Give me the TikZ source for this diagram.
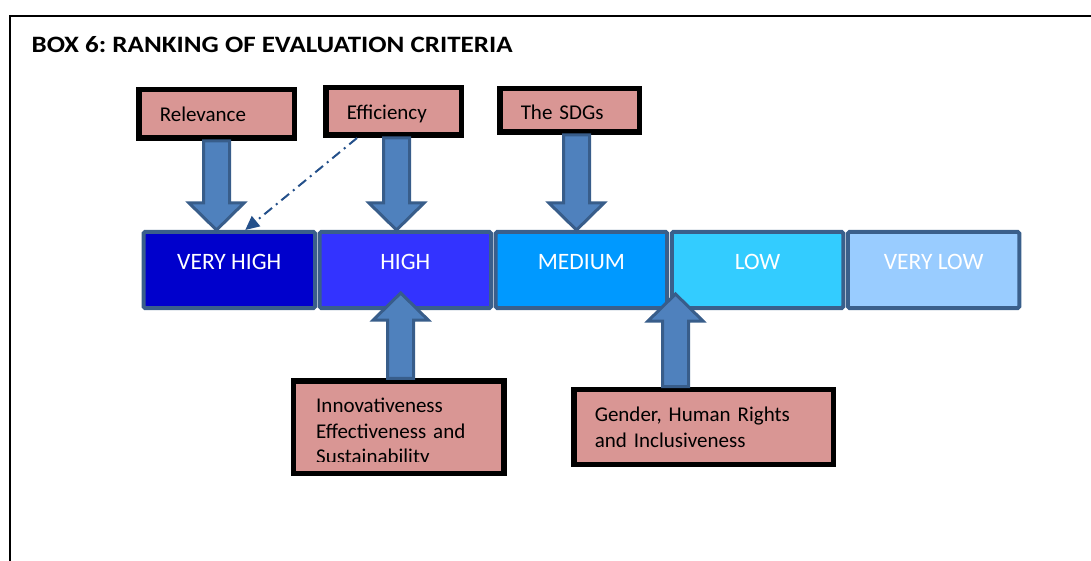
\documentclass[tikz,border=0pt]{standalone}
\usepackage{fontspec}
\setmainfont{Carlito}
\newfontfamily\titlefont[FakeStretch=1.15]{Carlito}
\frenchspacing
\usetikzlibrary{positioning,calc,arrows.meta}

\definecolor{rankedge}{HTML}{3A5F8B}
\definecolor{vhfill}{HTML}{0000CC}
\definecolor{hfill}{HTML}{3333FF}
\definecolor{mfill}{HTML}{0099FF}
\definecolor{lfill}{HTML}{33CCFF}
\definecolor{vlfill}{HTML}{99CCFF}
\definecolor{critfill}{HTML}{D99694}
\definecolor{arrowfill}{HTML}{4F81BD}
\definecolor{arrowedge}{HTML}{385D8A}
\definecolor{dashblue}{HTML}{24508A}

\tikzset{
  rank/.style={draw=rankedge, line width=4pt, rounded corners=1.5pt,
    minimum width=171.5pt, minimum height=76pt, inner sep=0pt, text=white,
    font=\fontsize{23.5}{28}\selectfont, text height=15pt, text depth=16.4pt},
  crit/.style={draw=black, fill=critfill, line width=5.5pt, inner xsep=21pt,
    align=left, font=\fontsize{21}{25.5}\selectfont},
  block/.style={draw=arrowedge, fill=arrowfill, line width=3pt},
  dashdot/.style={draw=dashblue, line width=2pt,
    dash pattern=on 10pt off 5pt on 2pt off 5pt,
    -{Triangle[length=14pt,width=13pt]}}
}

% block arrow from tail #1 to tip #2 (vertical only)
\newcommand{\blockarrow}[2]{%
  \path[block] let \p1=#1, \p2=#2, \n1={(\y2-\y1)/abs(\y2-\y1)} in
    ({\x1-13pt},\y1) -- ({\x1+13pt},\y1) -- ({\x1+13pt},{\y2-(\n1)*27pt})
    -- ({\x1+27.5pt},{\y2-(\n1)*27pt}) -- (\x2,\y2)
    -- ({\x1-27.5pt},{\y2-(\n1)*27pt}) -- ({\x1-13pt},{\y2-(\n1)*27pt}) -- cycle;}

\begin{document}
\begin{tikzpicture}[x=1pt,y=-1pt]
\useasboundingbox (0,0) rectangle (1091,561);
\draw[line width=2pt] (1091,16) -- (10,16) -- (10,561);

\node[anchor=base west, inner sep=0pt, font=\titlefont\fontsize{23.5}{28}\selectfont\bfseries]
  (title) at (31.5,52.5) {BOX 6: RANKING OF EVALUATION CRITERIA};

% the scale
\node[rank, fill=vhfill] (VH) at (229.25,270) {VERY HIGH};
\node[rank, fill=hfill, right=0.6pt of VH] (H) {HIGH};
\node[rank, fill=mfill, right=0.6pt of H] (M) {MEDIUM};
\node[rank, fill=lfill, right=0.6pt of M] (L) {LOW};
\node[rank, fill=vlfill, right=0.6pt of L] (VL) {VERY LOW};

% criteria above
\node[crit, text width=113.5pt, minimum height=48.5pt, text height=16pt, text depth=0pt]
  (Rel) at (216.5,114) {Relevance};
\node[crit, text width=93.5pt, minimum height=47.5pt, text height=17pt, text depth=0pt]
  (Eff) at (393.5,111.5) {Efficiency};
\node[crit, text width=97.5pt, minimum height=43.5pt, text height=19pt, text depth=0pt]
  (SDG) at (569.5,110.5) {The SDGs};

\blockarrow{(Rel.south)}{(Rel.south |- VH.north)}
\coordinate (EffT) at ($(Eff.south)+(3,0)$);
\blockarrow{(EffT)}{(EffT |- H.north)}
\coordinate (SDGT) at ($(SDG.south)+(7,0)$);
\blockarrow{(SDGT)}{(SDGT |- M.north)}

\coordinate (EffD) at ($(Eff.south west)+(34,0)$);
\coordinate (VHD) at ($(VH.north)+(16,0)$);
\draw[dashdot] (EffD) -- (VHD);

% criteria below
\node[crit, minimum width=210.5pt, minimum height=92.2pt] (Inn) at (398.7,427.2) {};
\coordinate (cut) at (0,461.7);
\begin{scope}
  \clip (Inn.north west) rectangle (Inn.east |- cut);
  \node[anchor=base west, inner sep=0pt, text width=185pt, align=left,
    font=\fontsize{21}{25.6}\selectfont] (InnText) at (316,412.7)
    {Innovativeness\\Effectiveness and\\Sustainability};
\end{scope}
\node[crit, text width=217.5pt, minimum height=75.1pt, text height=17pt, text depth=27.6pt]
  (Gen) at (703.5,427) {Gender, Human Rights\\and Inclusiveness};

\coordinate (InnT) at ($(Inn.north)+(2,0)$);
\blockarrow{(InnT)}{($(InnT |- H.south)+(0,-17)$)}
\coordinate (GenT) at ($(Gen.north)+(-28,0)$);
\blockarrow{(GenT)}{($(GenT |- L.south)+(0,-16)$)}
\end{tikzpicture}
\end{document}
